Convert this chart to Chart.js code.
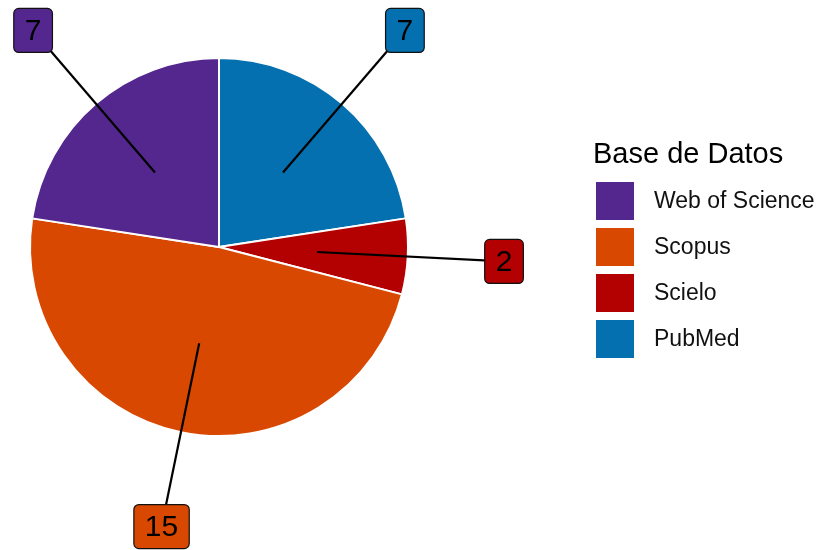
<!DOCTYPE html>
<html>
<head>
<meta charset="utf-8">
<script src="https://cdn.jsdelivr.net/npm/chart.js@4.4.1/dist/chart.umd.min.js"></script>
<style>
    html, body { margin: 0; padding: 0; background: #ffffff; }
    #wrap { width: 819px; height: 550px; position: relative; }
</style>
</head>
<body>
<div id="wrap"><canvas id="pieChart" width="819" height="550"></canvas></div>
<script>
// ===== DATA =====
const categories = ['PubMed', 'Scielo', 'Scopus', 'Web of Science'];
const counts = [7, 2, 15, 7];
const sliceColors = ['#0570B0', '#B30000', '#D94801', '#54278F'];
const legendTitle = 'Base de Datos';
const legendOrder = ['Web of Science', 'Scopus', 'Scielo', 'PubMed'];

const FONT = "'Liberation Sans', Arial, sans-serif";

// ===== LABELS (boxes + leader lines) =====
const labelPlugin = {
    id: 'repelLabels',
    afterDatasetsDraw(chart) {
        const ctx = chart.ctx;
        const arcs = chart.getDatasetMeta(0).data;
        ctx.save();
        arcs.forEach(function (arc, i) {
            const p = arc.getProps(['x', 'y', 'startAngle', 'endAngle', 'outerRadius'], true);
            const mid = (p.startAngle + p.endAngle) / 2;
            const r = p.outerRadius;
            const x0 = p.x + Math.cos(mid) * r * 0.52;
            const y0 = p.y + Math.sin(mid) * r * 0.52;
            const x1 = p.x + Math.cos(mid) * r * 1.51;
            const y1 = p.y + Math.sin(mid) * r * 1.51;

            ctx.strokeStyle = '#000000';
            ctx.lineWidth = 2.2;
            ctx.beginPath();
            ctx.moveTo(x0, y0);
            ctx.lineTo(x1, y1);
            ctx.stroke();

            const text = String(counts[i]);
            ctx.font = '30px ' + FONT;
            const tw = ctx.measureText(text).width;
            const w = tw + 22, h = 44;
            ctx.beginPath();
            ctx.roundRect(x1 - w / 2, y1 - h / 2, w, h, 5);
            ctx.fillStyle = sliceColors[i];
            ctx.fill();
            ctx.lineWidth = 1.2;
            ctx.strokeStyle = '#111111';
            ctx.stroke();

            ctx.fillStyle = '#000000';
            ctx.textAlign = 'center';
            ctx.textBaseline = 'middle';
            ctx.fillText(text, x1, y1 + 1);
        });
        ctx.restore();
    }
};

// ===== LEGEND =====
const legendPlugin = {
    id: 'sideLegend',
    afterDraw(chart) {
        const ctx = chart.ctx;
        ctx.save();
        ctx.fillStyle = '#000000';
        ctx.textBaseline = 'alphabetic';
        ctx.textAlign = 'left';
        ctx.font = '29px ' + FONT;
        ctx.fillText(legendTitle, 593, 163);

        ctx.font = '23px ' + FONT;
        ctx.textBaseline = 'middle';
        legendOrder.forEach(function (name, k) {
            const idx = categories.indexOf(name);
            const top = 182 + k * 46;
            ctx.fillStyle = sliceColors[idx];
            ctx.fillRect(596, top, 38, 38);
            ctx.fillStyle = '#111111';
            ctx.fillText(name, 654, top + 20);
        });
        ctx.restore();
    }
};

// ===== PIE CHART =====
new Chart(document.getElementById('pieChart'), {
    type: 'pie',
    data: {
        labels: categories,
        datasets: [{
            data: counts,
            backgroundColor: sliceColors,
            borderColor: '#ffffff',
            borderWidth: 2
        }]
    },
    options: {
        responsive: false,
        animation: false,
        radius: 189,
        layout: {
            padding: { left: 30, top: 58, right: 411, bottom: 114 }
        },
        plugins: {
            legend: { display: false },
            tooltip: { enabled: false }
        }
    },
    plugins: [labelPlugin, legendPlugin]
});
</script>
</body>
</html>
